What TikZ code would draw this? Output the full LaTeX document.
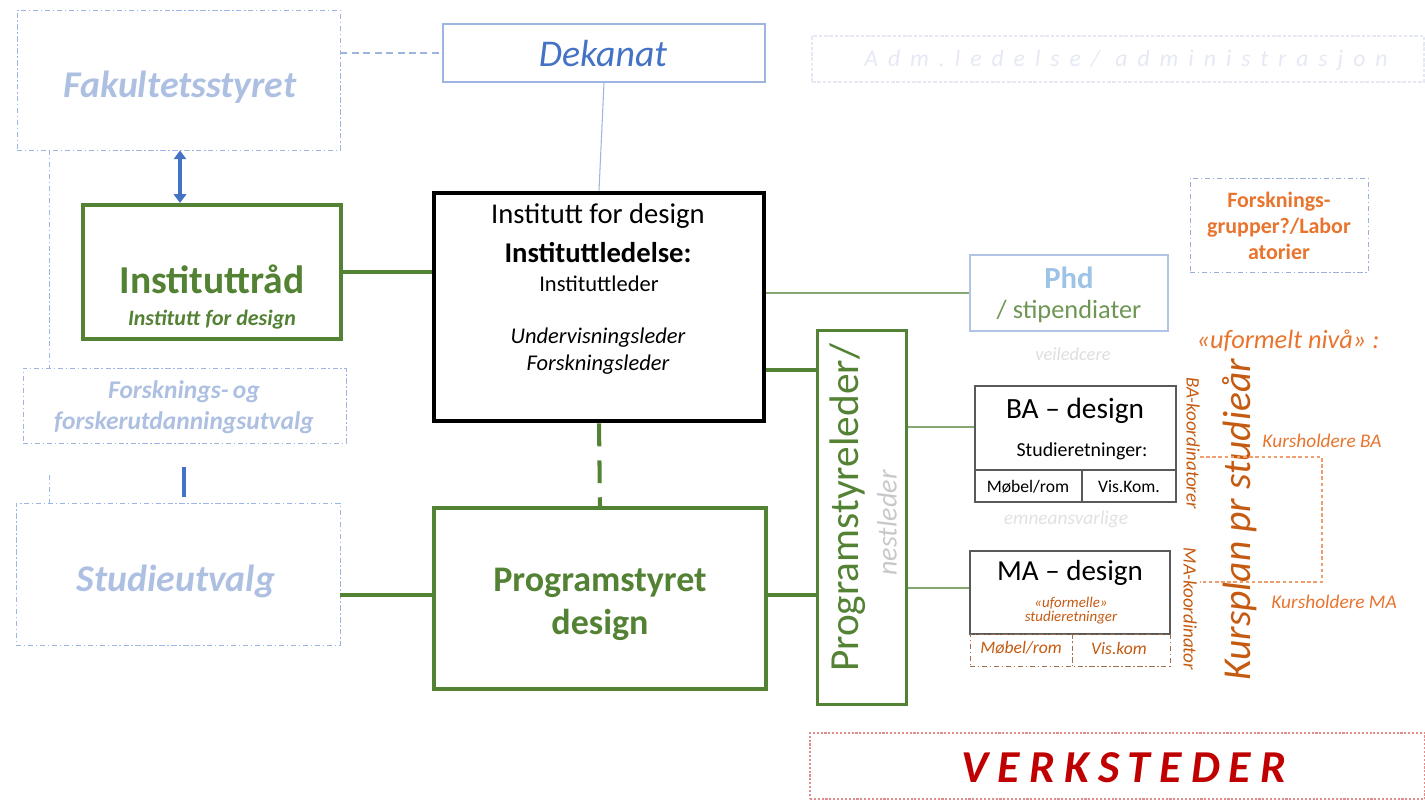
\documentclass[tikz,border=0pt]{standalone}
\usepackage{fontspec}
\setmainfont{Carlito}
\usetikzlibrary{arrows.meta,calc}
\definecolor{grn}{HTML}{548235}
\definecolor{lblue}{HTML}{AEC0E2}
\definecolor{bordblue}{HTML}{9DB5E0}
\definecolor{dblue}{HTML}{4472C4}
\definecolor{orng}{HTML}{E8742E}
\definecolor{dorng}{HTML}{C55A11}
\definecolor{dred}{HTML}{C00000}
\definecolor{faint}{HTML}{E4E9F4}
\definecolor{gry}{HTML}{C8C8C8}
\definecolor{phdblue}{HTML}{9DC3E6}
\definecolor{boxgray}{HTML}{595959}
\newcommand\fsz[1]{\fontsize{#1}{1.2\dimexpr#1pt\relax}\selectfont}
\begin{document}
\begin{tikzpicture}[x=0.02cm,y=-0.02cm,
  sz/.style 2 args={minimum width=#1*0.02cm,minimum height=#2*0.02cm,inner sep=0pt},
  dashdot/.style={draw=bordblue,line width=0.5pt,dash pattern=on 3pt off 1.5pt on 0.8pt off 1.5pt},
  greenbox/.style={draw=grn},
  gthick/.style={draw=grn,line width=2.3pt},
  gthin/.style={draw=grn!70,line width=0.6pt},
  txt/.style={inner sep=0pt,align=center}]
\useasboundingbox (0,0) rectangle (1425,799);
% boxes
\node[dashdot,sz={323}{140}] (fak) at (178.5,80) {};
\node[txt,text=lblue,font=\fsz{21.5}\bfseries\itshape] (fakt) at (180,87) {Fakultetsstyret};
\node[draw=bordblue,line width=0.7pt,sz={322}{58}] (dek) at (604,53) {};
\node[txt,text=dblue,font=\fsz{21.5}\itshape] (dekt) at (603,54) {Dekanat};
\node[draw=faint,line width=0.6pt,dash pattern=on 2pt off 1pt,sz={612}{46}] (adm) at (1118,59) {};
\node[txt,text=faint,font=\fsz{13.5}\itshape\addfontfeatures{LetterSpace=42}] (admt) at (1126,60) {Adm.ledelse/ administrasjon};
\node[greenbox,line width=2.3pt,sz={258}{134}] (inr) at (212,272) {};
\node[txt,text=grn,font=\fsz{22.5}\bfseries] (inrt1) at (212,279) {Instituttråd};
\node[txt,text=grn,font=\fsz{12.5}\bfseries\itshape] (inrt2) at (212,320) {Institutt for design};
\node[draw=black,line width=2.8pt,sz={330}{228}] (inst) at (599,307) {};
\node[txt,font=\fsz{16.3}] (i1) at (598,216) {Institutt for design};
\node[txt,font=\fsz{16.3}\bfseries] (i2) at (598,253) {Instituttledelse:};
\node[txt,font=\fsz{12.8}] (i3) at (599,284) {Instituttleder};
\node[txt,font=\fsz{12.8}\itshape] (i4) at (598,338) {Undervisningsleder};
\node[txt,font=\fsz{12.8}\itshape] (i5) at (598,365) {Forskningsleder};
\node[draw=bordblue!80,line width=0.7pt,sz={198}{76}] (phd) at (1069,293) {};
\node[txt,text=phdblue,font=\fsz{17.5}\bfseries] (phd1) at (1069,278) {Phd};
\node[txt,text=grn!85,font=\fsz{15}] (phd2) at (1069,311) {/ stipendiater};
\node[txt,text=gry!60,font=\fsz{10.5}\itshape] (veil) at (1073,354) {veiledcere};
\node[dashdot,draw=bordblue!90!gray,sz={178}{94}] (forsk) at (1279,225) {};
\node[txt,text=orng,font=\fsz{12.5}\bfseries] (forskt) at (1279,226) {Forsknings-\\grupper?/Labor\\atorier};
\node[dashdot,sz={323}{75}] (fou) at (184.5,405.5) {};
\node[txt,text=lblue,font=\fsz{14.5}\bfseries\itshape] (fout) at (184,407) {Forsknings-\,og\\forskerutdanningsutvalg};
\node[dashdot,sz={324}{142}] (stu) at (178,574) {};
\node[txt,text=lblue,font=\fsz{21.5}\bfseries\itshape] (stut) at (176,581) {Studieutvalg};
\node[greenbox,line width=2pt,sz={332}{181}] (prog) at (600,598.5) {};
\node[txt,text=grn,font=\fsz{20.5}\bfseries] (progt) at (600,604) {Programstyret\\design};
\node[greenbox,line width=1.7pt,sz={89}{374}] (psl) at (862,517.5) {};
\node[txt,text=grn,font=\fsz{23.5},rotate=90] (pslt) at (848,508) {Programstyreleder/};
\node[txt,text=gry,font=\fsz{16}\itshape,rotate=90] (nest) at (887,523) {nestleder};
% BA
\node[draw=boxgray,line width=0.8pt,sz={201}{116}] (ba) at (1075.5,444) {};
\node[txt,font=\fsz{16.7}] (bat) at (1075,411) {BA -- design};
\node[txt,font=\fsz{11.3}] (bast) at (1082,451) {Studieretninger:};
\draw[boxgray,line width=1.3pt] (ba.west |- 0,470) -- (ba.east |- 0,470);
\draw[boxgray,line width=0.8pt] (1082,470) -- (ba.south -| 1082,0);
\node[txt,font=\fsz{10}] (bam) at (1028,487) {Møbel/rom};
\node[txt,font=\fsz{10}] (bav) at (1129,487) {Vis.Kom.};
\node[txt,text=gry!55,font=\fsz{11}\itshape] (emne) at (1066,519) {emneansvarlige};
% MA
\node[draw=boxgray,line width=0.8pt,sz={200}{83}] (ma) at (1070,592.5) {};
\node[txt,font=\fsz{16.5}] (mat) at (1070,573) {MA -- design};
\node[txt,text=dorng,font=\fsz{8.5}\itshape] (mau1) at (1071,603) {«uformelle»};
\node[txt,text=dorng,font=\fsz{8.5}\itshape] (mau2) at (1071,618) {studieretninger};
\node[draw=dorng!45!gray,line width=0.5pt,dash pattern=on 3pt off 1.5pt on 0.8pt off 1.5pt,sz={200}{32}] (mab) at (1070,650) {};
\draw[draw=dorng!45!gray,line width=0.5pt,dash pattern=on 3pt off 1.5pt on 0.8pt off 1.5pt] (mab.north -| 1072,0) -- (mab.south -| 1072,0);
\node[txt,text=dorng,font=\fsz{10}\itshape] (mam) at (1021,648) {Møbel/rom};
\node[txt,text=dorng,font=\fsz{10}\itshape] (mav) at (1119,648) {Vis.kom};
% orange texts
\node[txt,text=dorng,font=\fsz{10.8}\itshape,rotate=-90] (bak) at (1193,443) {BA-koordinatorer};
\node[txt,text=dorng,font=\fsz{10.8}\itshape,rotate=-90] (mak) at (1190,609) {MA-koordinator};
\node[txt,text=dorng,font=\fsz{22.5}\itshape,rotate=90] (kurs) at (1240,520) {Kursplan pr studieår};
\node[txt,text=orng,font=\fsz{15}\itshape] (ufn) at (1288,341) {«uformelt nivå» :};
\node[txt,text=orng,font=\fsz{11}\itshape] (kba) at (1322,441) {Kursholdere BA};
\node[txt,text=orng,font=\fsz{11}\itshape] (kma) at (1334,602) {Kursholdere MA};
\coordinate (k1) at (1200,457);
\coordinate (k2) at (1322,457);
\coordinate (k3) at (1322,582);
\coordinate (k4) at (1200,582);
\draw[orng!70,line width=0.6pt,dash pattern=on 2pt off 1.5pt] (k1) -- (k2) -- (k3) -- (k4);
% Verksteder
\node[draw=dred!45,line width=0.6pt,dash pattern=on 1.2pt off 1pt,sz={615}{66}] (verk) at (1117.5,766) {};
\node[txt,text=dred,font=\fsz{26}\bfseries\itshape\addfontfeatures{LetterSpace=20}] (verkt) at (1124,768) {VERKSTEDER};
% connectors
\draw[bordblue,line width=0.6pt,dash pattern=on 4pt off 2.5pt] (fak.east |- dek.west) -- (dek.west);
\draw[bordblue,line width=0.6pt] (dek.south) -- (inst.north);
\draw[dblue,line width=1.8pt,{Triangle[length=5pt,width=7pt]}-{Triangle[length=5pt,width=7pt]}] (fak.south -| 180,0) -- (inr.north -| 180,0);
\coordinate (l1) at (49,150);
\coordinate (l2) at (49,368);
\coordinate (l3) at (49,475);
\coordinate (l4) at (49,503);
\draw[dashdot] (l1) -- (l2);
\draw[dashdot] (l3) -- (l4);
\coordinate (b1) at (184,467);
\coordinate (b2) at (184,497);
\draw[dblue,line width=2pt] (b1) -- (b2);
\draw[gthick] (inr.east) -- (inst.west |- inr.east);
\draw[gthin] (inst.east |- phd.west) -- (phd.west);
\coordinate (c1) at (0,370);
\draw[gthick] (inst.east |- c1) -- (psl.west |- c1);
\draw[gthick,dash pattern=on 13pt off 8pt] (inst.south) -- (prog.north);
\coordinate (c2) at (0,595);
\draw[gthick] (stu.east |- c2) -- (prog.west |- c2);
\draw[gthick] (prog.east |- c2) -- (psl.west |- c2);
\coordinate (c3) at (0,427);
\draw[gthin] (psl.east |- c3) -- (ba.west |- c3);
\coordinate (c4) at (0,588);
\draw[gthin] (psl.east |- c4) -- (ma.west |- c4);
\end{tikzpicture}
\end{document}
